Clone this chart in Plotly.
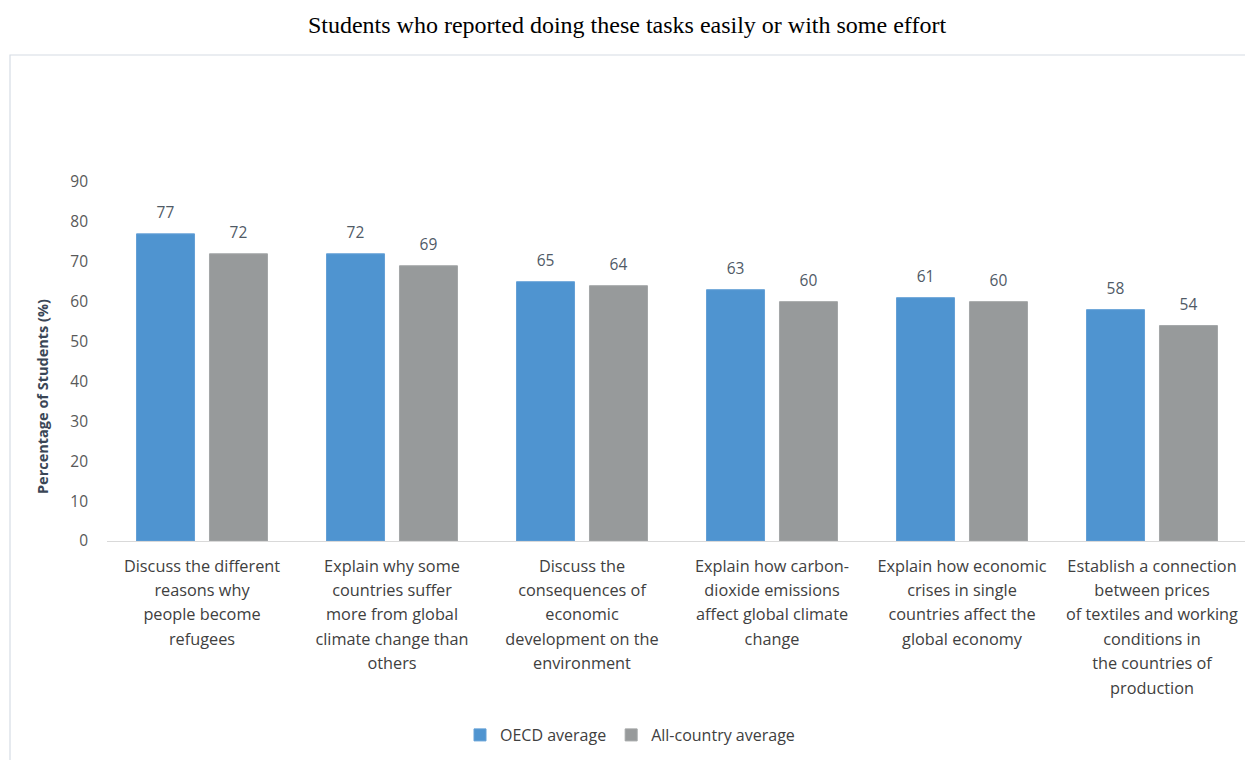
import plotly.graph_objects as go

categories = [
    "Discuss the different<br>reasons why<br>people become<br>refugees",
    "Explain why some<br>countries suffer<br>more from global<br>climate change than<br>others",
    "Discuss the<br>consequences of<br>economic<br>development on the<br>environment",
    "Explain how carbon-<br>dioxide emissions<br>affect global climate<br>change",
    "Explain how economic<br>crises in single<br>countries affect the<br>global economy",
    "Establish a connection<br>between prices<br>of textiles and working<br>conditions in<br>the countries of<br>production",
]
oecd_avg = [77, 72, 65, 63, 61, 58]
all_country_avg = [72, 69, 64, 60, 60, 54]
series_names = ["OECD average", "All-country average"]
y_ticks = [0, 10, 20, 30, 40, 50, 60, 70, 80, 90]

TXT = "#404040"
LAB = "#505a66"
FONT = "Open Sans"

def wrap_label(s, size=16.3):
    return "<br>".join(f"<span style='font-size:{size}px'>{p}</span>" for p in s.split("<br>"))

ticktext = [wrap_label(c) for c in categories]
xs = list(range(len(categories)))

value_tmpl = "<span style='font-size:15.5px'>%{y}</span><br> "

W, H = 1245, 752
L, R, T, B = 99, 6, 174, 219

fig = go.Figure()
fig.add_trace(go.Bar(
    x=xs, y=oecd_avg, name=series_names[0],
    marker=dict(color="#4f94d0", line=dict(color="#64a0d6", width=1)),
    text=oecd_avg, texttemplate=value_tmpl, textposition="outside",
    textfont=dict(family=FONT, size=8, color=LAB), constraintext="none",
    cliponaxis=False,
))
fig.add_trace(go.Bar(
    x=xs, y=all_country_avg, name=series_names[1],
    marker=dict(color="#979a9b", line=dict(color="#a3a6a7", width=1)),
    text=all_country_avg, texttemplate=value_tmpl, textposition="outside",
    textfont=dict(family=FONT, size=8, color=LAB), constraintext="none",
    cliponaxis=False,
))

pw = W - L - R
ph = H - T - B

fig.update_layout(
    width=W, height=H,
    margin=dict(l=L, r=R, t=T, b=B),
    paper_bgcolor="white", plot_bgcolor="white",
    barmode="group", bargap=0.232, bargroupgap=0.205,
    title=dict(
        text="Students who reported doing these tasks easily or with some effort",
        font=dict(family="Liberation Serif", size=24, color="#000000"),
        x=(627 - 8) / W, xanchor="center", xref="container",
        y=1 - (25 - 8) / H, yanchor="middle", yref="container",
    ),
    xaxis=dict(
        tickmode="array", tickvals=xs, ticktext=ticktext,
        tickfont=dict(family=FONT, size=18.8, color=TXT),
        range=[-0.5, len(categories) - 0.5],
        showline=True, linecolor="#d9d9d9", linewidth=1,
        ticks="", showgrid=False, zeroline=False, ticklabelstandoff=7,
        fixedrange=True,
    ),
    yaxis=dict(
        range=[0, 90], tickvals=y_ticks,
        tickfont=dict(family=FONT, size=15.5, color="#595959"),
        showgrid=False, zeroline=False, showline=False, ticks="",
        ticklabelstandoff=18,
    ),
    legend=dict(
        orientation="h", x=(630 - 107) / pw, xanchor="center",
        y=(541 - 735) / ph, yanchor="middle",
        font=dict(family=FONT, size=16, color=TXT), itemwidth=30,
        traceorder="normal",
    ),
    showlegend=True,
    annotations=[dict(
        text="<b>Percentage of Students (%)</b>", textangle=-90,
        xref="paper", yref="paper", x=(42 - 107) / pw, y=(541 - 397) / ph,
        xanchor="center", yanchor="middle", showarrow=False,
        font=dict(family=FONT, size=14.5, color="#3a4656"),
    )],
    shapes=[dict(
        type="rect", xref="paper", yref="paper",
        x0=(10 - 107) / pw, x1=1.02, y0=-0.66, y1=(541 - 55) / ph,
        line=dict(color="#d6dce4", width=1.2), fillcolor="rgba(0,0,0,0)",
        layer="below",
    )],
)

fig.write_html("out.html")
